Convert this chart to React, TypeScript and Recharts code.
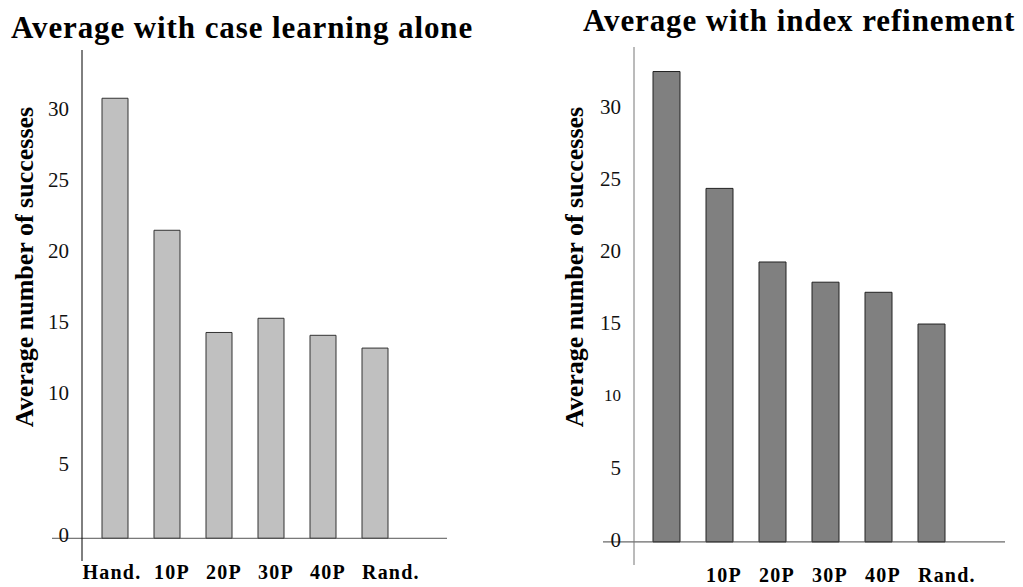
import { Bar, BarChart, ReferenceLine, XAxis, YAxis } from "recharts";

const categories = ["Hand.", "10P", "20P", "30P", "40P", "Rand."];
const caseLearning = [31.0, 21.7, 14.5, 15.5, 14.3, 13.4];
const indexRefinement = [32.6, 24.5, 19.4, 18.0, 17.3, 15.1];
// the right panel prints no label under its first bar
const indexLabels = ["", "10P", "20P", "30P", "40P", "Rand."];
const yTicks = [0, 5, 10, 15, 20, 25, 30];

const leftData = categories.map((c, i) => ({ cat: c, v: caseLearning[i] }));
const rightData = categories.map((c, i) => ({ cat: c, v: indexRefinement[i] }));

const serif = "'Liberation Serif', 'Times New Roman', serif";

function YTick(props: any) {
  const { x, y, payload, smallValues } = props;
  const small = smallValues && smallValues.includes(payload.value);
  return (
    <text
      x={x}
      y={y}
      dy={props.shift}
      textAnchor="end"
      dominantBaseline="central"
      fontFamily={serif}
      fontSize={small ? 17 : 21}
      fill="#111"
    >
      {payload.value}
    </text>
  );
}

// labels sit flush with the left edge of their bar; the wide "Hand." is centred instead
function CatTick(props: any) {
  const { x, y, payload, index, half, labels } = props;
  const text = labels ? labels[index] : payload.value;
  const centred = index === 0;
  return (
    <text
      x={centred ? x - 3 : x - half}
      y={y}
      dy="0.71em"
      textAnchor={centred ? "middle" : "start"}
      fontFamily={serif}
      fontWeight="bold"
      fontSize={20}
      letterSpacing={1.2}
      fill="#000"
    >
      {text}
    </text>
  );
}

function baseline(ext: number, color: string) {
  return (p: any) => (
    <line x1={p.x1 - ext} y1={p.y1} x2={p.x2} y2={p.y2} stroke={color} strokeWidth={1} />
  );
}

const titleStyle: React.CSSProperties = {
  position: "absolute",
  fontFamily: serif,
  fontWeight: "bold",
  fontSize: 31,
  letterSpacing: 0.9,
  whiteSpace: "nowrap",
  lineHeight: 1,
};

const axisTitleStyle: React.CSSProperties = {
  position: "absolute",
  fontFamily: serif,
  fontWeight: "bold",
  fontSize: 26,
  whiteSpace: "nowrap",
  lineHeight: 1,
  transform: "translate(-50%, -50%) rotate(-90deg)",
};

export default function App() {
  return (
    <div
      style={{
        position: "absolute",
        left: 0,
        top: 0,
        width: 1023,
        height: 587,
        background: "#fff",
        overflow: "hidden",
      }}
    >
      <div style={{ ...titleStyle, left: 11, top: 12 }}>Average with case learning alone</div>
      <div style={{ ...titleStyle, left: 583, top: 5 }}>Average with index refinement</div>
      <div style={{ ...axisTitleStyle, left: 25, top: 267 }}>Average number of successes</div>
      <div style={{ ...axisTitleStyle, left: 575, top: 267 }}>Average number of successes</div>

      <div style={{ position: "absolute", left: 0, top: 0 }}>
        <BarChart
          width={470}
          height={587}
          data={leftData}
          margin={{ top: 50, right: 23, bottom: 0, left: 0 }}
        >
          <XAxis
            dataKey="cat"
            height={26}
            axisLine={false}
            tickLine={false}
            tickSize={0}
            tickMargin={4}
            interval={0}
            padding={{ left: 7, right: 46 }}
            tick={<CatTick half={13} />}
          />
          <YAxis
            width={82}
            domain={[-1.6, 34.4]}
            ticks={yTicks}
            allowDataOverflow
            axisLine={{ stroke: "#000", strokeWidth: 1 }}
            tickLine={false}
            tickSize={0}
            tickMargin={13}
            tick={<YTick shift={-3} />}
          />
          <ReferenceLine y={0} stroke="#555" shape={baseline(30, "#555")} />
          <Bar
            dataKey="v"
            barSize={26}
            fill="#c0c0c0"
            stroke="#333"
            strokeWidth={1}
            isAnimationActive={false}
          />
        </BarChart>
      </div>

      <div style={{ position: "absolute", left: 520, top: 0 }}>
        <BarChart
          width={503}
          height={587}
          data={rightData}
          margin={{ top: 47, right: 18, bottom: 0, left: 0 }}
        >
          <XAxis
            dataKey="cat"
            height={22}
            axisLine={false}
            tickLine={false}
            tickSize={0}
            tickMargin={3}
            interval={0}
            padding={{ left: 6, right: 47 }}
            tick={<CatTick half={13.5} labels={indexLabels} />}
          />
          <YAxis
            width={114}
            domain={[-1.6, 34.3]}
            ticks={yTicks}
            allowDataOverflow
            axisLine={{ stroke: "#777", strokeWidth: 1 }}
            tickLine={false}
            tickSize={0}
            tickMargin={13}
            tick={<YTick shift={-2} smallValues={[10]} />}
          />
          <ReferenceLine y={0} stroke="#444" shape={baseline(31, "#444")} />
          <Bar
            dataKey="v"
            barSize={27}
            fill="#808080"
            stroke="#222"
            strokeWidth={1}
            isAnimationActive={false}
          />
        </BarChart>
      </div>
    </div>
  );
}
